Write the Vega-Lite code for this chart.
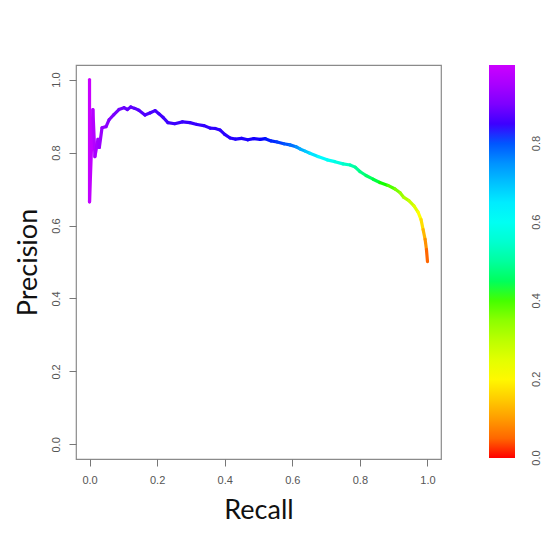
{
  "$schema": "https://vega.github.io/schema/vega-lite/v6.json",
  "width": 365,
  "height": 394,
  "autosize": {"type": "none"},
  "padding": {"left": 76, "top": 65, "right": 109, "bottom": 77},
  "background": "white",
  "config": {
    "view": {"stroke": "#8a8a8a", "strokeWidth": 1.2},
    "axis": {
      "domain": false,
      "grid": false,
      "tickColor": "#777777",
      "tickSize": 7,
      "labelColor": "#555555",
      "labelFont": "Liberation Sans",
      "labelFontSize": 11,
      "titleFont": "Lato",
      "titleFontSize": 27,
      "titleFontWeight": "normal",
      "titleColor": "#111111"
    }
  },
  "data": {
    "values": [
      {"i": 0, "recall": 0.0, "precision": 1.0, "threshold": 0.995},
      {"i": 1, "recall": 0.0, "precision": 0.665, "threshold": 0.985},
      {"i": 2, "recall": 0.01, "precision": 0.918, "threshold": 0.965},
      {"i": 3, "recall": 0.016, "precision": 0.789, "threshold": 0.95},
      {"i": 4, "recall": 0.025, "precision": 0.836, "threshold": 0.94},
      {"i": 5, "recall": 0.029, "precision": 0.814, "threshold": 0.935},
      {"i": 6, "recall": 0.037, "precision": 0.868, "threshold": 0.925},
      {"i": 7, "recall": 0.049, "precision": 0.871, "threshold": 0.915},
      {"i": 8, "recall": 0.058, "precision": 0.89, "threshold": 0.905},
      {"i": 9, "recall": 0.072, "precision": 0.904, "threshold": 0.895},
      {"i": 10, "recall": 0.087, "precision": 0.918, "threshold": 0.888},
      {"i": 11, "recall": 0.102, "precision": 0.923, "threshold": 0.88},
      {"i": 12, "recall": 0.112, "precision": 0.918, "threshold": 0.876},
      {"i": 13, "recall": 0.122, "precision": 0.925, "threshold": 0.872},
      {"i": 14, "recall": 0.134, "precision": 0.921, "threshold": 0.868},
      {"i": 15, "recall": 0.146, "precision": 0.916, "threshold": 0.864},
      {"i": 16, "recall": 0.164, "precision": 0.903, "threshold": 0.86},
      {"i": 17, "recall": 0.18, "precision": 0.909, "threshold": 0.857},
      {"i": 18, "recall": 0.194, "precision": 0.915, "threshold": 0.855},
      {"i": 19, "recall": 0.206, "precision": 0.906, "threshold": 0.853},
      {"i": 20, "recall": 0.218, "precision": 0.896, "threshold": 0.851},
      {"i": 21, "recall": 0.232, "precision": 0.882, "threshold": 0.85},
      {"i": 22, "recall": 0.252, "precision": 0.879, "threshold": 0.849},
      {"i": 23, "recall": 0.275, "precision": 0.884, "threshold": 0.848},
      {"i": 24, "recall": 0.297, "precision": 0.882, "threshold": 0.847},
      {"i": 25, "recall": 0.318, "precision": 0.877, "threshold": 0.846},
      {"i": 26, "recall": 0.338, "precision": 0.874, "threshold": 0.845},
      {"i": 27, "recall": 0.357, "precision": 0.867, "threshold": 0.844},
      {"i": 28, "recall": 0.372, "precision": 0.866, "threshold": 0.843},
      {"i": 29, "recall": 0.386, "precision": 0.862, "threshold": 0.842},
      {"i": 30, "recall": 0.4, "precision": 0.85, "threshold": 0.841},
      {"i": 31, "recall": 0.416, "precision": 0.84, "threshold": 0.84},
      {"i": 32, "recall": 0.432, "precision": 0.837, "threshold": 0.839},
      {"i": 33, "recall": 0.45, "precision": 0.839, "threshold": 0.838},
      {"i": 34, "recall": 0.468, "precision": 0.835, "threshold": 0.837},
      {"i": 35, "recall": 0.486, "precision": 0.838, "threshold": 0.836},
      {"i": 36, "recall": 0.505, "precision": 0.836, "threshold": 0.834},
      {"i": 37, "recall": 0.52, "precision": 0.838, "threshold": 0.83},
      {"i": 38, "recall": 0.537, "precision": 0.832, "threshold": 0.825},
      {"i": 39, "recall": 0.555, "precision": 0.829, "threshold": 0.815},
      {"i": 40, "recall": 0.575, "precision": 0.824, "threshold": 0.8},
      {"i": 41, "recall": 0.593, "precision": 0.821, "threshold": 0.78},
      {"i": 42, "recall": 0.611, "precision": 0.816, "threshold": 0.75},
      {"i": 43, "recall": 0.623, "precision": 0.81, "threshold": 0.72},
      {"i": 44, "recall": 0.638, "precision": 0.804, "threshold": 0.69},
      {"i": 45, "recall": 0.652, "precision": 0.798, "threshold": 0.66},
      {"i": 46, "recall": 0.676, "precision": 0.789, "threshold": 0.63},
      {"i": 47, "recall": 0.703, "precision": 0.78, "threshold": 0.6},
      {"i": 48, "recall": 0.726, "precision": 0.775, "threshold": 0.57},
      {"i": 49, "recall": 0.75, "precision": 0.769, "threshold": 0.54},
      {"i": 50, "recall": 0.771, "precision": 0.766, "threshold": 0.515},
      {"i": 51, "recall": 0.786, "precision": 0.76, "threshold": 0.495},
      {"i": 52, "recall": 0.8, "precision": 0.748, "threshold": 0.475},
      {"i": 53, "recall": 0.818, "precision": 0.737, "threshold": 0.455},
      {"i": 54, "recall": 0.839, "precision": 0.727, "threshold": 0.435},
      {"i": 55, "recall": 0.859, "precision": 0.718, "threshold": 0.415},
      {"i": 56, "recall": 0.883, "precision": 0.71, "threshold": 0.395},
      {"i": 57, "recall": 0.904, "precision": 0.7, "threshold": 0.365},
      {"i": 58, "recall": 0.919, "precision": 0.69, "threshold": 0.34},
      {"i": 59, "recall": 0.93, "precision": 0.677, "threshold": 0.315},
      {"i": 60, "recall": 0.945, "precision": 0.668, "threshold": 0.285},
      {"i": 61, "recall": 0.96, "precision": 0.654, "threshold": 0.25},
      {"i": 62, "recall": 0.972, "precision": 0.637, "threshold": 0.21},
      {"i": 63, "recall": 0.981, "precision": 0.616, "threshold": 0.17},
      {"i": 64, "recall": 0.987, "precision": 0.589, "threshold": 0.13},
      {"i": 65, "recall": 0.993, "precision": 0.562, "threshold": 0.09},
      {"i": 66, "recall": 0.997, "precision": 0.534, "threshold": 0.05},
      {"i": 67, "recall": 1.0, "precision": 0.501, "threshold": 0.01}
    ]
  },
  "transform": [
    {
      "window": [
        {"op": "lead", "field": "recall", "as": "recall2"},
        {"op": "lead", "field": "precision", "as": "precision2"}
      ],
      "sort": [{"field": "i", "order": "ascending"}]
    },
    {"filter": "datum.recall2 != null"}
  ],
  "mark": {"type": "rule", "strokeWidth": 3.2, "strokeCap": "round"},
  "encoding": {
    "x": {
      "field": "recall",
      "type": "quantitative",
      "scale": {"domain": [-0.04, 1.04], "nice": false, "zero": false},
      "axis": {
        "values": [0, 0.2, 0.4, 0.6, 0.8, 1.0],
        "format": ".1f",
        "labelPadding": 8,
        "title": "Recall",
        "titlePadding": 12
      }
    },
    "x2": {"field": "recall2"},
    "y": {
      "field": "precision",
      "type": "quantitative",
      "scale": {"domain": [-0.04, 1.04], "nice": false, "zero": false},
      "axis": {
        "values": [0, 0.2, 0.4, 0.6, 0.8, 1.0],
        "format": ".1f",
        "labelAngle": -90,
        "labelPadding": 8,
        "title": "Precision",
        "titlePadding": 8
      }
    },
    "y2": {"field": "precision2"},
    "color": {
      "field": "threshold",
      "type": "quantitative",
      "scale": {
        "domain": [0, 0.2083, 0.4167, 0.625, 0.8333, 1],
        "range": ["#FF0000", "#FFFF00", "#00FF00", "#00FFFF", "#0000FF", "#CC00FF"]
      },
      "legend": {
        "orient": "right",
        "offset": 48,
        "padding": 0,
        "title": null,
        "gradientLength": 393,
        "gradientThickness": 26,
        "gradientStrokeWidth": 0,
        "values": [0, 0.2, 0.4, 0.6, 0.8],
        "format": ".1f",
        "labelFont": "Liberation Sans",
        "labelFontSize": 11,
        "labelColor": "#555555",
        "labelOffset": 22,
        "encoding": {
          "labels": {
            "angle": {"value": -90},
            "align": {"value": "center"},
            "baseline": {"value": "middle"}
          }
        }
      }
    }
  }
}
